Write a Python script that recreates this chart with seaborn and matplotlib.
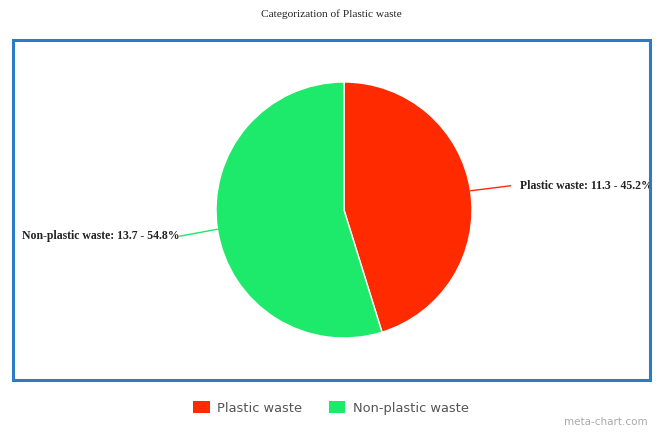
import numpy as np
import seaborn as sns
import matplotlib.pyplot as plt
from matplotlib.patches import Rectangle, Patch

# data
categories = ["Plastic waste", "Non-plastic waste"]
values = [11.3, 13.7]
percents = [45.2, 54.8]
colors = ["#ff2a00", "#1de96b"]
title = "Categorization of Plastic waste"

sns.set_theme(style="white")
plt.rcParams['font.family'] = ['DejaVu Sans']

W, H = 662, 432
fig = plt.figure(figsize=(W / 100, H / 100), dpi=100)
fig.patch.set_facecolor("white")

# blue frame round the plot area
fig.patches.append(Rectangle((13 / W, 1 - 380 / H), 637 / W, 340 / H,
                             transform=fig.transFigure, fill=False,
                             edgecolor="#2b7bc9", linewidth=2.2))

# pie axes: centre (344, 210) px, radius 128 px
r = 128
ax = fig.add_axes([(344 - r) / W, 1 - (210 + r) / H, 2 * r / W, 2 * r / H])
wedges, _ = ax.pie(values, colors=colors, startangle=90, counterclock=False,
                   wedgeprops=dict(edgecolor="white", linewidth=1))
ax.set_xlim(-1, 1)
ax.set_ylim(-1, 1)
ax.set_aspect("equal")
ax.axis("off")

# leader lines + labels
offsets = [(40, 5), (-38, -7)]
for w, cat, v, p, c, off in zip(wedges, categories, values, percents, colors, offsets):
    ang = np.deg2rad((w.theta1 + w.theta2) / 2)
    x, y = np.cos(ang), np.sin(ang)
    ha = "left" if x > 0 else "right"
    ax.annotate("", xy=(x, y), xytext=off, textcoords="offset pixels",
                xycoords="data",
                arrowprops=dict(arrowstyle="-", color=c, lw=1, shrinkA=0, shrinkB=0),
                annotation_clip=False)
    tx = off[0] + (9 if x > 0 else 0)
    ax.annotate(f"{cat}: {v} - {p}%", xy=(x, y), xytext=(tx, off[1]),
                textcoords="offset pixels", ha=ha, va="center",
                fontsize=8.5, fontweight="bold", family="Liberation Serif",
                color="#222222", annotation_clip=False)

fig.text(0.5, 1 - 14 / H, title, ha="center", va="center",
         fontsize=8.2, family="Liberation Serif", color="#222222")

# legend below the frame
handles = [Patch(facecolor=c, edgecolor="none") for c in colors]
fig.legend(handles, categories, loc="center", bbox_to_anchor=(0.5, 1 - 408 / H),
           ncol=2, frameon=False, fontsize=9.4, labelcolor="#555555",
           handlelength=1.25, handleheight=1.0, columnspacing=2.0, handletextpad=0.6)

fig.text(1 - 14 / W, 1 - 422 / H, "meta-chart.com", ha="right", va="center",
         fontsize=7.5, color="#aaaaaa")

fig.savefig("out.png", dpi=100)
